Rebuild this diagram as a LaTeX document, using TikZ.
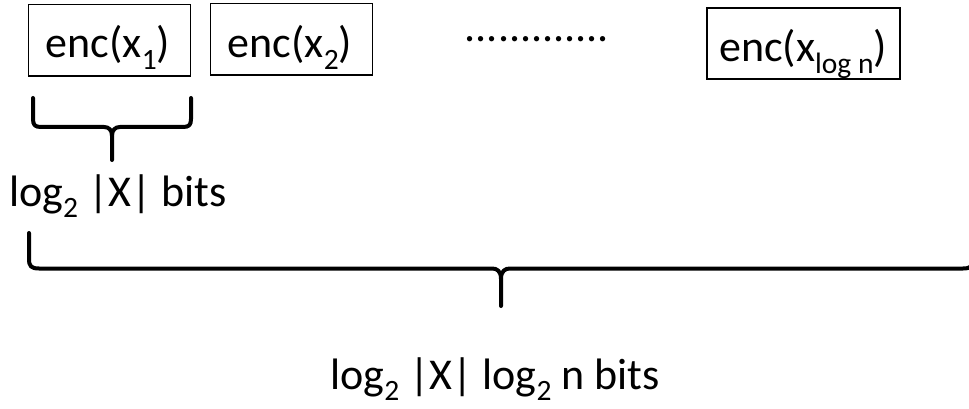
\documentclass[tikz,border=0pt]{standalone}
\usepackage{fontspec}
\setmainfont{Carlito}
\newcommand\subtxt[1]{\raisebox{-0.27em}[\height][0pt]{\fontsize{29.5}{30}\selectfont #1}}
\begin{document}
\begin{tikzpicture}[x=1pt,y=-1pt,
  every node/.style={inner sep=0pt, font=\fontsize{44}{52}\selectfont},
  encbox/.style={draw=black, line width=1.4pt},
  bracepath/.style={draw=black, line width=4pt, line cap=round, line join=round}]
\useasboundingbox (0,0) rectangle (969,409);
\clip (0,0) rectangle (969,409);
% boxes
\node[encbox, minimum width=162pt, minimum height=71.5pt] (b1) at (109.7,40.3) {};
\node[encbox, minimum width=162pt, minimum height=71.5pt] (b2) at (291.7,39.2) {};
\node[encbox, minimum width=193pt, minimum height=71pt] (b3) at (803.5,43.5) {};
\node[anchor=base] (t1) at (108,58) {enc(x\subtxt{1})};
\node[anchor=base] (t2) at (290,57.3) {enc(x\subtxt{2})};
\node[anchor=base] (t3) at (803,62) {enc(x\subtxt{log n})};
\node[anchor=base] (dots) at (537,42) {.............};
% small brace
\draw[bracepath] (33,98) -- (33,119) .. controls (33,125) and (35,127) .. (41,127)
  -- (104,127) .. controls (109,127) and (112,130) .. (112,136) -- (112,160);
\draw[bracepath] (191,98) -- (191,119) .. controls (191,125) and (189,127) .. (183,127)
  -- (120,127) .. controls (115,127) and (112,130) .. (112,136);
\node[anchor=base west] (l1) at (9,206) {log\subtxt{2} |X| bits};
% large brace
\draw[bracepath] (29,233) -- (29,259) .. controls (29,266) and (31,268.5) .. (39,268.5)
  -- (492,268.5) .. controls (497,268.5) and (501,271) .. (501,279) -- (501,306);
\draw[bracepath] (973,233) -- (973,259) .. controls (973,266) and (971,268.5) .. (963,268.5)
  -- (510,268.5) .. controls (505,268.5) and (501,271) .. (501,279);
\node[anchor=base] (l2) at (495,389) {log\subtxt{2} |X| log\subtxt{2} n bits};
\end{tikzpicture}
\end{document}
